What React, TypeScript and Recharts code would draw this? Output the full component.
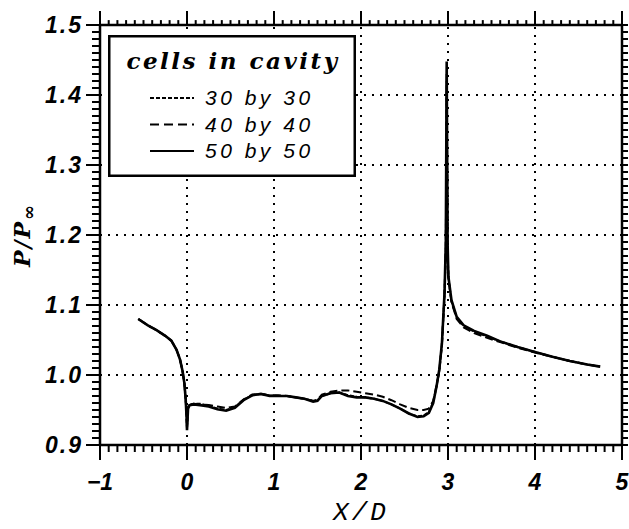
import React from 'react';
import { LineChart, Line, XAxis, YAxis, ReferenceLine, Legend } from 'recharts';

// x/D stations shared by the three grids
const xPos = [
  -0.56, -0.45, -0.35, -0.25, -0.18, -0.12, -0.08, -0.05, -0.03, -0.015, -0.005, 0.0, 0.012, 0.03,
  0.08, 0.15, 0.25, 0.35, 0.45, 0.55, 0.65, 0.75, 0.85, 0.95, 1.05, 1.15, 1.25, 1.35, 1.45, 1.5,
  1.55, 1.65, 1.75, 1.85, 1.95, 2.05, 2.15, 2.25, 2.35, 2.45, 2.55, 2.65, 2.72, 2.78, 2.83, 2.87,
  2.9, 2.93, 2.96, 2.975, 2.985, 2.995, 3.005, 3.04, 3.1, 3.18, 3.3, 3.45, 3.6, 3.8, 4.0, 4.2,
  4.4, 4.6, 4.75,
];

const p30 = [
  1.08, 1.071, 1.064, 1.056, 1.049, 1.036, 1.022, 1.005, 0.988, 0.965, 0.94, 0.923, 0.953, 0.958,
  0.959, 0.959, 0.956, 0.952, 0.95, 0.954, 0.965, 0.971, 0.973, 0.971, 0.97, 0.97, 0.968, 0.966, 0.963, 0.964,
  0.97, 0.974, 0.975, 0.971, 0.969, 0.968, 0.966, 0.963, 0.958, 0.952, 0.945, 0.941, 0.942, 0.947, 0.961, 0.985,
  1.006, 1.044, 1.115, 1.18, 1.42, 1.18, 1.138, 1.106, 1.082, 1.07, 1.062, 1.055, 1.048, 1.04, 1.033, 1.026,
  1.02, 1.015, 1.012,
];

const p40 = [
  1.08, 1.071, 1.064, 1.056, 1.049, 1.036, 1.022, 1.005, 0.988, 0.965, 0.94, 0.925, 0.954, 0.958,
  0.959, 0.958, 0.957, 0.955, 0.953, 0.955, 0.965, 0.972, 0.973, 0.971, 0.971, 0.97, 0.968, 0.966, 0.963, 0.965,
  0.972, 0.976, 0.978, 0.978, 0.976, 0.974, 0.972, 0.969, 0.964, 0.958, 0.953, 0.95, 0.95, 0.952, 0.963, 0.986,
  1.005, 1.043, 1.114, 1.18, 1.43, 1.18, 1.137, 1.104, 1.08, 1.068, 1.06, 1.053, 1.047, 1.039, 1.032, 1.026,
  1.02, 1.015, 1.012,
];

const p50 = [
  1.08, 1.071, 1.064, 1.056, 1.049, 1.036, 1.022, 1.005, 0.988, 0.965, 0.94, 0.921, 0.952, 0.957,
  0.958, 0.957, 0.955, 0.951, 0.949, 0.953, 0.964, 0.971, 0.973, 0.97, 0.97, 0.97, 0.968, 0.966, 0.962, 0.963,
  0.97, 0.974, 0.975, 0.97, 0.968, 0.968, 0.966, 0.963, 0.958, 0.952, 0.945, 0.94, 0.941, 0.946, 0.96, 0.985,
  1.008, 1.045, 1.117, 1.19, 1.448, 1.19, 1.14, 1.107, 1.083, 1.071, 1.063, 1.056, 1.048, 1.04, 1.033, 1.026,
  1.02, 1.015, 1.012,
];

const seriesNames = ['30 by 30', '40 by 40', '50 by 50'];
const seriesDash = ['4 2', '9 5', '0'];
const xGrid = [0, 1, 2, 3, 4];
const yGrid = [1.0, 1.1, 1.2, 1.3, 1.4];
const xDomain = [-1, 5];
const yDomain = [0.9, 1.5];

// minor ticks every 0.1 on x and 0.01 on y
const xTicks = Array.from({ length: 61 }, (_, i) => Math.round((-1 + i * 0.1) * 10) / 10);
const yTicks = Array.from({ length: 61 }, (_, i) => Math.round((0.9 + i * 0.01) * 100) / 100);

const rows = xPos.map((x, i) => ({ x, p30: p30[i], p40: p40[i], p50: p50[i] }));

const tickFont = { fontFamily: 'Liberation Sans', fontWeight: 'bold', fontStyle: 'italic', fontSize: 23 };

const isMajor = (v: number, step: number) => Math.abs(v / step - Math.round(v / step)) < 1e-6;

// top and right frame ticks as short segments outside the plot
const frameTicks = [
  ...xTicks.map((v) => ({ k: 't' + v, seg: [{ x: v, y: 1.5 }, { x: v, y: 1.5 + (isMajor(v, 1) ? 0.02 : 0.007) }] })),
  ...yTicks.map((v) => ({ k: 'r' + v, seg: [{ x: 5, y: v }, { x: 5.069, y: v }] })),
];

const BottomTick = (props: any) => {
  const x = Number(props.x);
  const y = Number(props.y);
  const v = Number(props.payload.value);
  const major = isMajor(v, 1);
  return (
    <g>
      <rect x={x - 1} y={y} width={2} height={major ? 15 : 7} fill="#000" />
      {major && (
        <text x={x} y={y + 45} textAnchor="middle" fill="#000" style={tickFont}>
          {v < 0 ? '\u2212' + Math.abs(v) : String(v)}
        </text>
      )}
    </g>
  );
};

const LeftTick = (props: any) => {
  const x = Number(props.x);
  const y = Number(props.y);
  const v = Number(props.payload.value);
  const major = isMajor(v, 0.1);
  const len = major ? 14 : 8;
  return (
    <g>
      <rect x={x - len} y={y - 1} width={len} height={2} fill="#000" />
      {major && (
        <text x={x - 17} y={y + 8} textAnchor="end" fill="#000" letterSpacing={2} style={tickFont}>
          {v.toFixed(1)}
        </text>
      )}
    </g>
  );
};

// overlay with the legend box and the two axis titles
const Overlay = () => (
  <svg width={629} height={529} style={{ display: 'block', pointerEvents: 'none' }}>
    <g transform="translate(108, 35)">
      <rect x={1.25} y={1.25} width={245.5} height={139.5} fill="#fff" stroke="#000" strokeWidth={2.5} />
      <text
        x={125}
        y={34}
        textAnchor="middle"
        fill="#000"
        style={{ fontFamily: 'DejaVu Serif', fontWeight: 'bold', fontStyle: 'italic', fontSize: 23 }}
        letterSpacing={2.5}
      >
        cells in cavity
      </text>
      {seriesNames.map((name, i) => {
        const base = 70 + i * 26.5;
        return (
          <g key={name}>
            <line x1={42} x2={86} y1={base - 7} y2={base - 7} stroke="#000" strokeWidth={2} strokeDasharray={seriesDash[i]} />
            <text
              x={97}
              y={base}
              fill="#000"
              letterSpacing={3.5}
              style={{ fontFamily: 'Liberation Sans', fontStyle: 'italic', fontSize: 21 }}
            >
              {name}
            </text>
          </g>
        );
      })}
    </g>
    <text
      x={361}
      y={520}
      textAnchor="middle"
      fill="#000"
      letterSpacing={3}
      style={{ fontFamily: 'Liberation Mono', fontStyle: 'italic', fontSize: 26 }}
    >
      X/D
    </text>
    <text
      transform="translate(30, 235) rotate(-90)"
      textAnchor="middle"
      fill="#000"
      letterSpacing={2}
      style={{ fontFamily: 'DejaVu Serif', fontWeight: 'bold', fontStyle: 'italic', fontSize: 22 }}
    >
      P/P
      <tspan fontSize={18} dy={5}>
        ∞
      </tspan>
    </text>
  </svg>
);

const gridStyle = { stroke: '#000', strokeWidth: 2, strokeDasharray: '2 6' };

export default function App() {
  return (
    <div style={{ position: 'absolute', left: 0, top: 0, background: '#fff' }}>
      <LineChart width={629} height={529} data={rows} margin={{ top: 25, right: 7, bottom: 0, left: 0 }}>
        <XAxis
          xAxisId="bottom"
          dataKey="x"
          type="number"
          domain={xDomain}
          ticks={xTicks}
          interval={0}
          height={84}
          tickSize={0}
          tickMargin={0}
          tickLine={false}
          axisLine={{ stroke: '#000', strokeWidth: 2.5 }}
          tick={(p: any) => <BottomTick {...p} />}
        />
        <YAxis
          yAxisId="left"
          type="number"
          domain={yDomain}
          ticks={yTicks}
          interval={0}
          width={100}
          tickSize={0}
          tickMargin={0}
          tickLine={false}
          axisLine={{ stroke: '#000', strokeWidth: 2.5 }}
          tick={(p: any) => <LeftTick {...p} />}
        />
        {xGrid.map((v) => (
          <ReferenceLine key={'vx' + v} x={v} xAxisId="bottom" yAxisId="left" {...gridStyle} />
        ))}
        {yGrid.map((v) => (
          <ReferenceLine key={'hy' + v} y={v} xAxisId="bottom" yAxisId="left" {...gridStyle} />
        ))}
        <ReferenceLine xAxisId="bottom" yAxisId="left" y={1.5} stroke="#000" strokeWidth={2.5} />
        <ReferenceLine xAxisId="bottom" yAxisId="left" x={5} stroke="#000" strokeWidth={2.5} />
        {frameTicks.map((t) => (
          <ReferenceLine
            key={t.k}
            xAxisId="bottom"
            yAxisId="left"
            segment={t.seg}
            ifOverflow="visible"
            stroke="#000"
            strokeWidth={2}
          />
        ))}
        <Line
          xAxisId="bottom"
          yAxisId="left"
          type="linear"
          dataKey="p30"
          name={seriesNames[0]}
          stroke="#000"
          strokeWidth={2}
          strokeDasharray="4 2"
          dot={false}
          isAnimationActive={false}
        />
        <Line
          xAxisId="bottom"
          yAxisId="left"
          type="linear"
          dataKey="p40"
          name={seriesNames[1]}
          stroke="#000"
          strokeWidth={2}
          strokeDasharray="8 4"
          dot={false}
          isAnimationActive={false}
        />
        <Line
          xAxisId="bottom"
          yAxisId="left"
          type="linear"
          dataKey="p50"
          name={seriesNames[2]}
          stroke="#000"
          strokeWidth={2.6}
          dot={false}
          isAnimationActive={false}
        />
        <Legend
          layout="vertical"
          align="center"
          verticalAlign="middle"
          wrapperStyle={{ left: 0, top: 0, width: 629, height: 529, pointerEvents: 'none' }}
          content={() => <Overlay />}
        />
      </LineChart>
    </div>
  );
}
